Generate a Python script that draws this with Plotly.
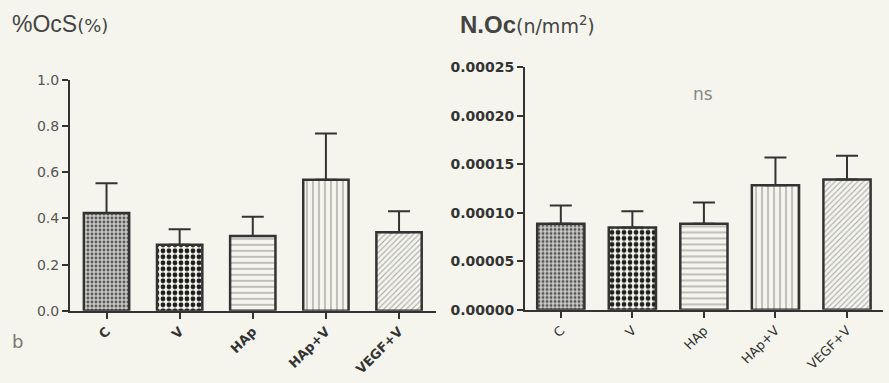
import plotly.graph_objects as go

categories = ["C", "V", "HAp", "HAp+V", "VEGF+V"]
ocs_mean = [0.423, 0.286, 0.324, 0.568, 0.340]
ocs_err = [0.129, 0.067, 0.083, 0.200, 0.091]
noc_mean = [0.0000889, 0.0000850, 0.0000889, 0.0001285, 0.0001344]
noc_err = [0.0000188, 0.0000168, 0.0000218, 0.0000286, 0.0000246]
left_ticks = [0.0, 0.2, 0.4, 0.6, 0.8, 1.0]
left_ticktext = ["0.0", "0.2", "0.4", "0.6", "0.8", "1.0"]
right_ticks = [0, 0.00005, 0.0001, 0.00015, 0.0002, 0.00025]
right_ticktext = ["0.00000", "0.00005", "0.00010", "0.00015", "0.00020", "0.00025"]

BG = "#f5f5ee"
INK = "#333333"

patterns = [
    dict(shape=".", size=4, solidity=0.45, fgcolor="#555555", bgcolor="#cfcfca", fillmode="replace"),
    dict(shape=".", size=6, solidity=0.5, fgcolor="#1e1e1e", bgcolor=BG, fillmode="replace"),
    dict(shape="-", size=6, solidity=0.2, fgcolor="#9a9a9a", bgcolor=BG, fillmode="replace"),
    dict(shape="|", size=6, solidity=0.2, fgcolor="#9a9a9a", bgcolor=BG, fillmode="replace"),
    dict(shape="/", size=4, solidity=0.25, fgcolor="#a5a5a5", bgcolor=BG, fillmode="replace"),
]

fig = go.Figure()

for i, cat in enumerate(categories):
    fig.add_trace(go.Bar(
        x=[cat], y=[ocs_mean[i]], xaxis="x", yaxis="y",
        width=0.62,
        marker=dict(color=BG, pattern=patterns[i], line=dict(color=INK, width=2.5)),
        error_y=dict(type="data", array=[ocs_err[i]], arrayminus=[0], color=INK, thickness=2, width=11),
        showlegend=False, hoverinfo="skip",
    ))
    fig.add_trace(go.Bar(
        x=[cat], y=[noc_mean[i]], xaxis="x2", yaxis="y2",
        width=0.66,
        marker=dict(color=BG, pattern=patterns[i], line=dict(color=INK, width=2.5)),
        error_y=dict(type="data", array=[noc_err[i]], arrayminus=[0], color=INK, thickness=2, width=11),
        showlegend=False, hoverinfo="skip",
    ))

axis_common = dict(showgrid=False, zeroline=False, showline=True, linecolor=INK, linewidth=2,
                   ticks="outside", tickcolor=INK, tickwidth=2, ticklen=6)

fig.update_layout(
    width=889, height=383,
    margin=dict(l=0, r=0, t=0, b=0),
    paper_bgcolor=BG, plot_bgcolor=BG,
    barmode="overlay",
    xaxis=dict(domain=[0.0787, 0.490], anchor="y", range=[-0.5, 4.5],
               tickangle=-45, tickvals=categories, ticktext=["<b>%s</b>" % c for c in categories],
               tickfont=dict(family="DejaVu Sans", size=13, color=INK),
               **axis_common),
    yaxis=dict(domain=[0.1749, 0.8042], anchor="x", range=[0, 1.0],
               tickvals=left_ticks, ticktext=left_ticktext,
               tickfont=dict(family="DejaVu Sans", size=14, color="#555555"),
               **axis_common),
    xaxis2=dict(domain=[0.5906, 0.9930], anchor="y2", range=[-0.5, 4.5],
                tickangle=-45, tickvals=categories, ticktext=categories,
                tickfont=dict(family="DejaVu Sans", size=13, color=INK),
                **axis_common),
    yaxis2=dict(domain=[0.1775, 0.8381], anchor="x2", range=[0, 0.00025],
                tickvals=right_ticks, ticktext=["<b>%s</b>" % t for t in right_ticktext],
                tickfont=dict(family="DejaVu Sans", size=14, color=INK),
                **axis_common),
    annotations=[
        dict(text="%OcS<span style='font-size:18px;font-family:DejaVu Sans'>(%)</span>", x=10 / 889, y=1 - 17 / 383,
             xref="paper", yref="paper", xanchor="left", yanchor="middle", showarrow=False,
             font=dict(family="Liberation Sans, Arial", size=23, color="#444444")),
        dict(text="<b>N.Oc</b><span style='font-size:19px;font-family:DejaVu Sans'>(n/mm<sup>2</sup>)</span>", x=458 / 889, y=1 - 17 / 383,
             xref="paper", yref="paper", xanchor="left", yanchor="middle", showarrow=False,
             font=dict(family="Liberation Sans, Arial", size=24, color="#444444")),
        dict(text="ns", x=703 / 889, y=1 - 90 / 383, xref="paper", yref="paper",
             xanchor="center", yanchor="middle", showarrow=False,
             font=dict(family="DejaVu Sans", size=17, color="#888888")),
        dict(text="b", x=10 / 889, y=1 - 348 / 383, xref="paper", yref="paper",
             xanchor="left", yanchor="middle", showarrow=False,
             font=dict(family="DejaVu Sans", size=18, color="#777777")),
    ],
)

fig.write_html("out.html")
